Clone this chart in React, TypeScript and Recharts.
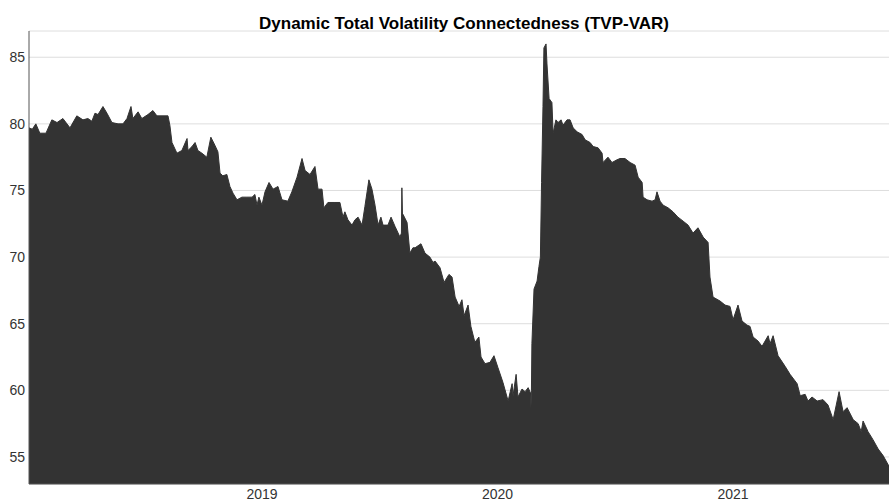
import React from 'react';
import { AreaChart, Area, XAxis, YAxis, CartesianGrid } from 'recharts';

// time in decimal years
const years = [
  2018.011, 2018.025, 2018.04, 2018.057, 2018.083, 2018.108, 2018.13, 2018.155, 2018.185, 2018.214,
  2018.24, 2018.261, 2018.278, 2018.291, 2018.304, 2018.325, 2018.342, 2018.363, 2018.389, 2018.41,
  2018.427, 2018.444, 2018.452, 2018.474, 2018.49, 2018.516, 2018.537, 2018.554, 2018.601, 2018.609,
  2018.618, 2018.639, 2018.66, 2018.682, 2018.686, 2018.703, 2018.716, 2018.728, 2018.745, 2018.766,
  2018.783, 2018.8, 2018.813, 2018.822, 2018.834, 2018.851, 2018.864, 2018.877, 2018.894, 2018.915,
  2018.936, 2018.958, 2018.97, 2018.979, 2018.987, 2019.0, 2019.013, 2019.03, 2019.047, 2019.068,
  2019.085, 2019.11, 2019.127, 2019.149, 2019.17, 2019.183, 2019.204, 2019.225, 2019.238, 2019.255,
  2019.263, 2019.28, 2019.31, 2019.331, 2019.344, 2019.352, 2019.365, 2019.382, 2019.395, 2019.408,
  2019.425, 2019.437, 2019.454, 2019.467, 2019.48, 2019.493, 2019.505, 2019.514, 2019.535, 2019.548,
  2019.565, 2019.586, 2019.592, 2019.594, 2019.597, 2019.599, 2019.616, 2019.628, 2019.641, 2019.65,
  2019.675, 2019.692, 2019.713, 2019.726, 2019.735, 2019.756, 2019.773, 2019.794, 2019.807, 2019.82,
  2019.837, 2019.849, 2019.858, 2019.875, 2019.887, 2019.904, 2019.921, 2019.93, 2019.947, 2019.968,
  2019.985, 2020.002, 2020.023, 2020.045, 2020.062, 2020.066, 2020.079, 2020.087, 2020.104, 2020.117,
  2020.13, 2020.14, 2020.142, 2020.144, 2020.146, 2020.155, 2020.168, 2020.176, 2020.182, 2020.187,
  2020.193, 2020.197, 2020.206, 2020.21, 2020.219, 2020.231, 2020.236, 2020.248, 2020.257, 2020.27,
  2020.278, 2020.295, 2020.308, 2020.321, 2020.338, 2020.359, 2020.372, 2020.393, 2020.406, 2020.427,
  2020.444, 2020.448, 2020.469, 2020.486, 2020.507, 2020.52, 2020.541, 2020.563, 2020.584, 2020.597,
  2020.614, 2020.618, 2020.635, 2020.656, 2020.669, 2020.677, 2020.69, 2020.703, 2020.724, 2020.745,
  2020.766, 2020.788, 2020.809, 2020.83, 2020.851, 2020.873, 2020.894, 2020.902, 2020.915, 2020.945,
  2020.966, 2020.987, 2021.0, 2021.021, 2021.038, 2021.059, 2021.072, 2021.085, 2021.106, 2021.123,
  2021.149, 2021.157, 2021.17, 2021.191, 2021.221, 2021.242, 2021.272, 2021.285, 2021.306, 2021.318,
  2021.335, 2021.357, 2021.382, 2021.403, 2021.425, 2021.45, 2021.467, 2021.484, 2021.51, 2021.531,
  2021.544, 2021.552, 2021.573, 2021.594, 2021.616, 2021.637, 2021.662,
];

const connectedness = [
  79.7, 79.6, 80.0, 79.3, 79.3, 80.3, 80.1, 80.4, 79.7, 80.6,
  80.3, 80.4, 80.2, 80.8, 80.7, 81.3, 80.8, 80.1, 80.0, 80.0,
  80.4, 81.3, 80.4, 80.9, 80.4, 80.7, 81.0, 80.6, 80.6, 79.9,
  78.6, 77.8, 78.0, 78.9, 78.0, 78.3, 78.6, 78.0, 77.8, 77.5,
  79.0, 78.4, 77.9, 76.3, 76.1, 76.2, 75.3, 74.8, 74.3, 74.5,
  74.5, 74.5, 74.7, 73.9, 74.5, 73.9, 74.9, 75.6, 75.1, 75.3,
  74.3, 74.2, 74.9, 76.0, 77.4, 76.5, 76.2, 76.8, 75.1, 75.1,
  73.7, 74.1, 74.1, 74.1, 73.0, 73.4, 72.8, 72.4, 72.8, 73.0,
  72.4, 73.8, 75.8, 75.1, 73.9, 72.4, 73.0, 72.4, 72.4, 73.0,
  72.3, 71.5, 71.8, 75.2, 72.8, 73.2, 72.6, 70.3, 70.7, 70.7,
  71.0, 70.3, 70.0, 69.6, 69.7, 69.2, 68.1, 68.7, 68.5, 67.0,
  66.3, 66.8, 65.6, 66.4, 64.8, 63.6, 64.0, 62.5, 62.0, 62.1,
  62.6, 61.7, 60.6, 59.2, 60.5, 59.6, 61.2, 59.5, 60.1, 59.9,
  60.2, 59.8, 58.7, 60.0, 63.5, 67.6, 68.2, 69.3, 70.0, 75.6,
  81.3, 85.7, 86.0, 84.5, 81.9, 81.6, 79.3, 80.3, 80.1, 80.3,
  79.9, 80.3, 80.3, 79.7, 79.4, 79.2, 78.8, 78.6, 78.3, 78.2,
  77.8, 77.1, 77.5, 77.1, 77.3, 77.4, 77.4, 77.1, 76.9, 76.0,
  75.6, 74.5, 74.3, 74.2, 74.3, 74.9, 74.2, 73.9, 73.7, 73.4,
  73.0, 72.7, 72.4, 71.8, 72.2, 71.5, 71.1, 68.5, 67.0, 66.7,
  66.4, 66.3, 65.3, 66.4, 65.2, 64.9, 64.8, 64.0, 63.7, 63.3,
  64.1, 63.5, 64.1, 62.6, 61.8, 61.2, 60.5, 59.6, 59.7, 59.2,
  59.5, 59.2, 59.3, 58.9, 57.8, 59.9, 58.4, 58.7, 57.8, 57.5,
  56.9, 57.7, 56.9, 56.3, 55.6, 55.1, 54.3,
];

const yTicks = [55, 60, 65, 70, 75, 80, 85];
const xTicks = [2019, 2020, 2021];

const data = years.map((t, i) => ({ t, value: connectedness[i] }));

const xDomain = [2018.011, 2021.662];
const yDomain = [52.97, 86.97];

const tickStyle = { fontSize: 14, fill: '#333333', fontFamily: 'Liberation Sans, Arial, sans-serif' };

export default function App() {
  return (
    <div style={{ position: 'absolute', left: 0, top: 0, width: 889, height: 503, background: '#fff' }}>
      <AreaChart
        width={889}
        height={503}
        data={data}
        margin={{ top: 31, right: 0, left: 0, bottom: 0 }}
      >
        <CartesianGrid vertical={false} stroke="#dedede" strokeWidth={1} />
        <XAxis
          dataKey="t"
          type="number"
          domain={xDomain}
          ticks={xTicks}
          height={19}
          tickLine={false}
          tickSize={0}
          tickMargin={5}
          axisLine={{ stroke: '#555', strokeWidth: 1 }}
          tick={tickStyle}
        />
        <XAxis
          xAxisId="top"
          dataKey="t"
          type="number"
          orientation="top"
          domain={xDomain}
          height={0}
          tick={false}
          tickLine={false}
          axisLine={{ stroke: '#555', strokeWidth: 1 }}
        />
        <YAxis
          type="number"
          domain={yDomain}
          ticks={yTicks}
          width={29}
          tickLine={false}
          tickSize={0}
          tickMargin={4}
          axisLine={{ stroke: '#555', strokeWidth: 1 }}
          tick={tickStyle}
        />
        <Area
          dataKey="value"
          type="linear"
          stroke="#333333"
          strokeWidth={1}
          fill="#333333"
          fillOpacity={1}
          isAnimationActive={false}
          dot={false}
          activeDot={false}
        />
      </AreaChart>
      <svg
        width={889}
        height={40}
        style={{ position: 'absolute', left: 0, top: 0, pointerEvents: 'none' }}
      >
        <text
          x={464}
          y={29}
          textAnchor="middle"
          fontSize={17}
          fontWeight="bold"
          fill="#000"
          fontFamily="Liberation Sans, Arial, sans-serif"
        >
          Dynamic Total Volatility Connectedness (TVP-VAR)
        </text>
      </svg>
    </div>
  );
}
